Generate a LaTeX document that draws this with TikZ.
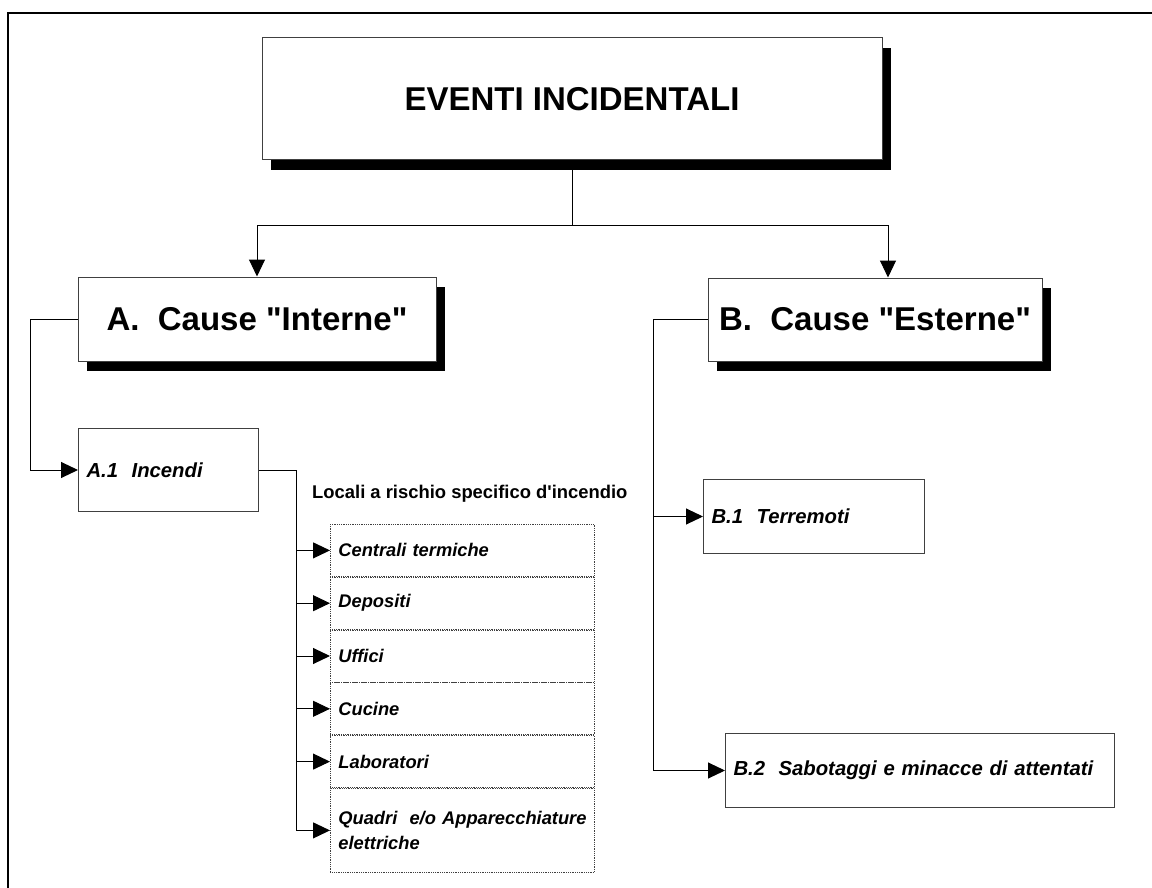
\documentclass[tikz,border=0pt]{standalone}
\usepackage{fontspec}
\setmainfont{Liberation Sans}
\usepackage{tikz}
\usetikzlibrary{arrows.meta, positioning, shadows}
\hyphenpenalty=10000

\tikzset{
    bigbox/.style={draw=black!75, line width=1pt, fill=white, inner sep=0pt,
        drop shadow={shadow xshift=9pt, shadow yshift=-10pt, opacity=1, fill=black},
        font=\bfseries\fontsize{33}{38}\selectfont},
    subbox/.style={draw=black!75, line width=1pt, fill=white, anchor=north west,
        align=left, inner xsep=8pt, inner ysep=0pt,
        font=\bfseries\itshape\fontsize{20.3}{25}\selectfont},
    itembox/.style={draw=black!75, densely dotted, line width=0.8pt, anchor=north west,
        minimum width=264pt, minimum height=52pt, text width=248pt,
        align=left, inner xsep=8pt, inner ysep=0pt,
        font=\bfseries\itshape\fontsize{18.3}{25}\selectfont},
    arr/.style={-{Triangle[length=17pt,width=16pt]}, line width=1pt},
    wire/.style={line width=1pt}
}

\begin{document}
\begin{tikzpicture}[x=1pt, y=-1pt, node distance=0pt]
    \useasboundingbox (0,0) rectangle (1152,888);
    \draw[line width=2pt] (8,888) -- (8,13) -- (1152,13);

    % main boxes
    \node[bigbox, minimum width=620pt, minimum height=122pt] (top) at (572,99) {EVENTI INCIDENTALI};
    \node[bigbox, minimum width=358pt, minimum height=84pt] (causeA) at (257,319)
        {A.~~Cause \textquotedbl Interne\textquotedbl};
    \node[bigbox, minimum width=334pt, minimum height=83pt] (causeB) at (875,319.5)
        {B.~~Cause \textquotedbl Esterne\textquotedbl};

    \node[subbox, minimum width=180pt, minimum height=83pt, text width=164pt] (incendi) at (78,428) {A.1~~Incendi};
    \node[subbox, minimum width=221pt, minimum height=74pt, text width=205pt] (terremoti) at (703,479) {B.1~~Terremoti};
    \node[subbox, minimum width=389pt, minimum height=74pt, text width=373pt] (sabotaggi) at (725,733) {B.2~~Sabotaggi e minacce di attentati};

    \node[anchor=base west, inner sep=0pt, font=\bfseries\fontsize{18.4}{22}\selectfont] (locali) at (312,498)
        {Locali a rischio specifico d\textquotesingle incendio};

    % locali
    \node[itembox] (centrali) at (330,524) {Centrali termiche};
    \node[itembox, below=of centrali] (depositi) {Depositi};
    \node[itembox, below=of depositi] (uffici) {Uffici};
    \node[itembox, below=of uffici] (cucine) {Cucine};
    \node[itembox, below=of cucine] (laboratori) {Laboratori};
    \node[itembox, below=of laboratori, minimum height=84pt] (quadri)
        {\mbox{Quadri~~e/o Apparecchiature}\\elettriche};

    % connectors
    \coordinate (bus) at (572,225);
    \draw[wire] (top.south) -- (bus);
    \draw[arr] (bus) -| (causeA.north);
    \draw[arr] (bus) -| ([xshift=13pt]causeB.north);

    \draw[arr] (causeA.west) -- ++(-47,0) |- (incendi.west);

    \coordinate (spine) at ([xshift=37pt]incendi.east);
    \draw[wire] (incendi.east) -- (spine) -- (spine |- quadri.west);
    \foreach \n in {centrali, depositi, uffici, cucine, laboratori, quadri}
        \draw[arr] (spine |- \n.west) -- (\n.west);

    \coordinate (bspine) at ([xshift=-54pt]causeB.west);
    \draw[wire] (causeB.west) -- (bspine) -- (bspine |- sabotaggi.west);
    \draw[arr] (bspine |- terremoti.west) -- (terremoti.west);
    \draw[arr] (bspine |- sabotaggi.west) -- (sabotaggi.west);
\end{tikzpicture}
\end{document}
